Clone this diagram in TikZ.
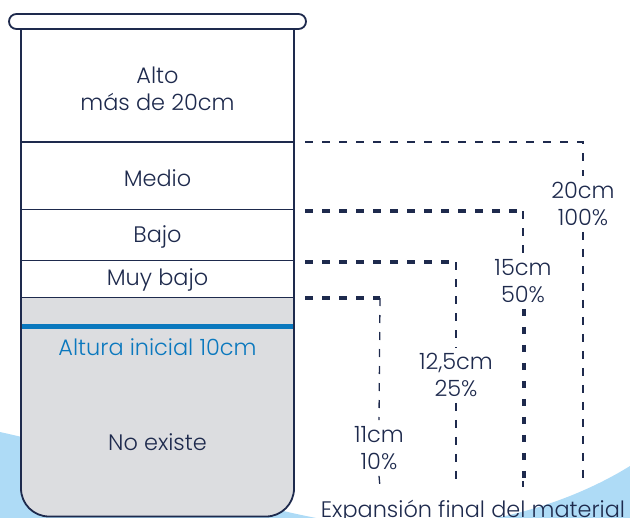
\documentclass[tikz,border=0pt]{standalone}
\usepackage{fontspec}
\setmainfont{Poppins Light}
\begin{document}
\definecolor{navy}{HTML}{1E2A4D}
\definecolor{fillgray}{HTML}{DCDDE0}
\definecolor{blueline}{HTML}{0A78BE}
\definecolor{lightblue}{HTML}{AEDBF6}
\begin{tikzpicture}[x=1bp,y=-1bp,
  lbl/.style={text=navy,font=\fontsize{22.5}{27}\selectfont,align=center,inner sep=6bp},
  wall/.style={draw=navy,line width=1.8bp},
  thinline/.style={draw=navy,line width=1.3bp,dash pattern=on 8bp off 9bp},
  thickline/.style={draw=navy,line width=4.5bp,dash pattern=on 8bp off 9bp},
  thickv/.style={draw=navy,line width=4.5bp,dash pattern=on 7bp off 11bp}]
\useasboundingbox (0,0) rectangle (630,518);
\begin{scope}
\clip (0,0) rectangle (630,518);
% background band
\fill[lightblue] (0,432) .. controls (150,465) and (280,526) .. (400,527)
  .. controls (500,528) and (580,497) .. (630,466) -- (630,530) -- (0,530) -- cycle;
% gray fill of beaker
\fill[fillgray] (21,298) -- (21,400) [rounded corners=28bp] -- (21,516.5) -- (294,516.5) -- (294,400) [sharp corners] -- (294,298) -- cycle;
\fill[white] (21,29) rectangle (294,298);
% walls
\draw[wall,rounded corners=28bp] (21,29) -- (21,516.5) -- (294,516.5) -- (294,29);
\end{scope}
% rim
\draw[wall,fill=white,rounded corners=7.5bp] (9,14) rectangle (306,29);
% dividers
\draw[wall] (21,142) -- (294,142);
\draw[wall] (21,209.5) -- (294,209.5);
\draw[wall] (21,260.5) -- (294,260.5);
\draw[wall] (21,297.5) -- (294,297.5);
\draw[draw=blueline,line width=5bp] (22,326) -- (293,326);
% beaker labels
\node[lbl] (alto) at (157.5,89) {Alto\\más de 20cm};
\node[lbl] (medio) at (157.5,178) {Medio};
\node[lbl] (bajo) at (157.5,237) {Bajo};
\node[lbl] (muybajo) at (157.5,280) {Muy bajo};
\node[lbl,text=blueline] (inicial) at (157.5,347) {Altura inicial 10cm};
\node[lbl] (noexiste) at (157.5,442) {No existe};
% right labels
\node[lbl] (l20) at (583,204) {20cm\\100\%};
\node[lbl] (l15) at (523,281) {15cm\\50\%};
\node[lbl] (l125) at (456,375) {12,5cm\\25\%};
\node[lbl] (l11) at (379,448) {11cm\\10\%};
\node[text=navy,font=\fontsize{22.5}{27}\selectfont,anchor=base,inner sep=0pt] (expansion) at (473,517) {Expansión final del material};
% coordinates
\coordinate (s20) at (305,142); \coordinate (c20) at (583,142); \coordinate (e20) at (583,480);
\coordinate (s15) at (305,211); \coordinate (c15) at (523,211); \coordinate (e15) at (524,478);
\coordinate (f15) at (523,481); \coordinate (g15) at (523,487);
\coordinate (s125) at (305,262); \coordinate (c125) at (456,262); \coordinate (e125) at (456,486);
\coordinate (s11) at (305,298); \coordinate (c11) at (380,298); \coordinate (e11) at (380,487);
% connectors
\draw[thinline] (s20) -- (c20) -- (l20.north);
\draw[thinline] (l20.south) -- (e20);
\draw[thickline] (s15) -- (c15);
\draw[thinline] (c15) -- (l15.north);
\draw[thickv] (l15.south -| e15) -- (e15);
\draw[navy,line width=1.3bp] (f15) -- (g15);
\draw[thickline] (s125) -- (c125);
\draw[thinline] (c125) -- (l125.north);
\draw[thinline] (l125.south) -- (e125);
\draw[thickline] (s11) -- (c11);
\draw[thinline] (c11) -- (l11.north);
\draw[thinline] (l11.south) -- (e11);
\end{tikzpicture}
\end{document}
